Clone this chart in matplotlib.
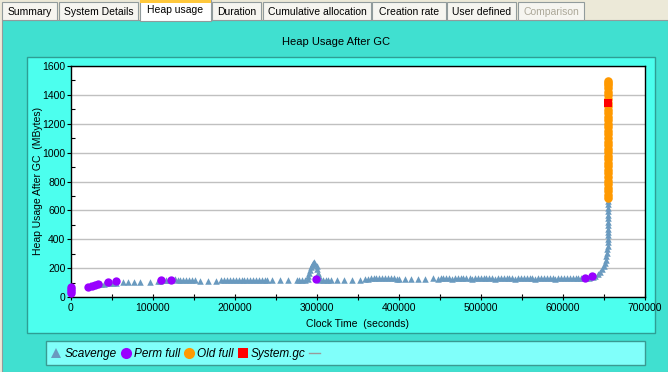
import matplotlib
matplotlib.use('Agg')
import matplotlib.pyplot as plt
from matplotlib.patches import Rectangle
from matplotlib.lines import Line2D
from matplotlib.ticker import MultipleLocator

plt.rcParams['font.family'] = ['Liberation Sans', 'DejaVu Sans']

# ---- data (clock time in seconds, heap after GC in MB) ----
tab_names = ['Summary', 'System Details', 'Heap usage', 'Duration',
             'Cumulative allocation', 'Creation rate', 'User defined', 'Comparison']

scavenge = [
    (23000, 82), (26500, 86), (30000, 88), (33500, 90), (37000, 92), (40500, 92),
    (44000, 94), (47500, 95), (51000, 96), (55000, 98),
    (63800, 104), (69900, 105), (76800, 105), (84100, 104), (96300, 102),
    (105500, 108), (109000, 112), (112500, 116), (116000, 118), (119500, 120),
    (123000, 121), (126500, 122), (130000, 121), (133500, 120), (137000, 120),
    (140500, 120), (144000, 119), (147500, 118), (151000, 118),
    (157000, 112), (166700, 112), (176400, 112),
    (183500, 115), (187000, 117), (190500, 118), (194000, 119), (197500, 120),
    (201000, 120), (204500, 119), (208000, 119), (211500, 119), (215000, 118),
    (218500, 118), (222000, 118), (225500, 118), (229000, 117), (232500, 117),
    (236000, 117), (239000, 116),
    (245500, 118), (255200, 118), (265000, 118), (275200, 118),
    (278500, 118), (282000, 119), (285500, 120), (288500, 123),
    (289500, 145), (290500, 165), (291500, 185), (292500, 205), (293500, 222),
    (295000, 236), (296500, 240), (298000, 232), (299500, 215), (300500, 192),
    (301500, 168), (302000, 145),
    (303500, 120), (307000, 119), (310500, 118), (314000, 118), (317500, 118),
    (324000, 118), (333000, 118), (343000, 118), (353000, 118),
    (358500, 126), (362000, 128), (365500, 129), (369000, 130), (372500, 130),
    (376000, 130), (379500, 130), (383000, 130), (386500, 130), (390000, 130),
    (393500, 129), (397000, 128), (400500, 127),
    (407000, 125), (415000, 125), (423000, 125), (431700, 128), (441800, 129),
    (447500, 128), (451000, 130), (454000, 129), (457500, 131), (461500, 130),
    (464500, 128), (468000, 130), (472000, 131), (475500, 129), (478500, 130),
    (482000, 131), (486000, 130), (489500, 128), (492500, 130), (496000, 131),
    (500000, 130), (503500, 129), (506500, 131), (510000, 130), (514000, 130),
    (517500, 128), (520500, 131), (524000, 130), (528000, 129), (531500, 131),
    (534500, 130), (538000, 130), (542000, 128), (545500, 131), (548500, 130),
    (552000, 129), (556000, 131), (559500, 130), (562500, 130), (566000, 128),
    (570000, 131), (573500, 130), (576500, 129), (580000, 131), (584000, 130),
    (587500, 130), (590500, 128), (594000, 131), (598000, 130), (601500, 129),
    (604500, 130), (608000, 131), (612000, 130), (615500, 129), (618500, 131),
    (622000, 130), (625000, 131),
    (628000, 132), (632000, 135), (636000, 140), (639500, 148), (642500, 160),
    (645000, 174), (647500, 192), (649500, 212), (651000, 234), (652200, 258),
    (653000, 282), (653700, 306), (654200, 330), (654500, 354), (654700, 378),
    (654800, 402), (654900, 426), (654900, 450), (655000, 474), (654900, 498),
    (655000, 522), (654900, 546), (655000, 570), (654900, 594), (655000, 618),
    (654900, 642), (655000, 662),
]
scav_t = [p[0] for p in scavenge]
scav_mb = [p[1] for p in scavenge]

perm_t = [0, 0, 0, 0, 21000, 25000, 29000, 33500, 44700, 54500,
          109800, 122000, 298700, 626800, 635000]
perm_mb = [30, 44, 58, 72, 68, 76, 82, 88, 102, 111,
           115, 115, 125, 134, 148]

old_mb = [684, 708, 733, 757, 782, 806, 831, 856, 880, 905, 929, 954, 978,
          1003, 1028, 1052, 1077, 1101, 1126, 1150, 1175, 1199, 1224, 1249,
          1273, 1298, 1322, 1347, 1371, 1396, 1420, 1445, 1469, 1484, 1496]
old_t = [655000] * len(old_mb)

sysgc_t = [655000]
sysgc_mb = [1345]

SCAV_C = '#6A9ABF'
PERM_C = '#9900FF'
OLD_C = '#FF9900'
SYS_C = '#FF0000'

W, H = 668, 372
fig = plt.figure(figsize=(W / 100, H / 100), dpi=100)

# ---- window chrome, drawn in pixel coordinates ----
bg = fig.add_axes([0, 0, 1, 1])
bg.set_xlim(0, W)
bg.set_ylim(H, 0)
bg.axis('off')

bg.add_patch(Rectangle((0, 0), W, H, facecolor='#ECE9D8', edgecolor='none'))
bg.add_patch(Rectangle((2, 20), W - 2, H - 20, facecolor='#40E0D0',
                       edgecolor='#919B9C', lw=0.8))

tab_edges = [(2, 57), (59, 138), (140, 211), (212, 261), (263, 371),
             (372, 446), (447, 516), (518, 584)]
for name, (x0, x1) in zip(tab_names, tab_edges):
    if name == 'Heap usage':
        bg.add_patch(Rectangle((x0, 0), x1 - x0, 21, facecolor='white',
                               edgecolor='#919B9C', lw=0.8, zorder=3))
        bg.add_patch(Rectangle((x0, 0), x1 - x0, 3, facecolor='#FFC83C',
                               edgecolor='none', zorder=4))
        ty = 10
    else:
        bg.add_patch(Rectangle((x0, 2), x1 - x0, 18, facecolor='#F6F5F0',
                               edgecolor='#919B9C', lw=0.8, zorder=2))
        ty = 12
    col = '#ACA899' if name == 'Comparison' else 'black'
    bg.text((x0 + x1) / 2, ty, name, ha='center', va='center', fontsize=7.5,
            color=col, zorder=5)

# inner light panel and legend box
bg.add_patch(Rectangle((27, 57), 628, 276, facecolor='#4CFFEE',
                       edgecolor='#2E9E94', lw=1))
bg.add_patch(Rectangle((46, 341), 599, 24, facecolor='#80FFFA',
                       edgecolor='#3A9A92', lw=1))

bg.text(336, 42, 'Heap Usage After GC', ha='center', va='center', fontsize=8)
bg.text(38, 181, 'Heap Usage After GC  (MBytes)', ha='center', va='center',
        rotation=90, fontsize=7.5)
bg.text(358, 324, 'Clock Time  (seconds)', ha='center', va='center', fontsize=7.5)

# ---- the chart ----
ax = fig.add_axes([71 / W, 1 - 297 / H, 574 / W, 231 / H])
ax.set_facecolor('white')

ax.scatter(scav_t, scav_mb, marker='^', s=22, color=SCAV_C, linewidths=0, zorder=3)
ax.scatter(perm_t, perm_mb, marker='o', s=36, color=PERM_C, linewidths=0,
           zorder=4, clip_on=False)
ax.scatter(old_t, old_mb, marker='o', s=38, color=OLD_C, linewidths=0, zorder=4)
ax.scatter(sysgc_t, sysgc_mb, marker='s', s=30, color=SYS_C, linewidths=0, zorder=5)

ax.set_xlim(0, 700000)
ax.set_ylim(0, 1600)
ax.xaxis.set_major_locator(MultipleLocator(100000))
ax.xaxis.set_minor_locator(MultipleLocator(50000))
ax.yaxis.set_major_locator(MultipleLocator(200))
ax.yaxis.set_minor_locator(MultipleLocator(100))
ax.ticklabel_format(axis='x', style='plain', useOffset=False)
ax.grid(axis='y', which='major', color='#C0C0C0', lw=1)
ax.set_axisbelow(True)

ax.tick_params(axis='x', which='both', direction='inout', length=5, width=0.8,
               labelsize=7.5, pad=2)
ax.tick_params(axis='y', which='major', direction='out', length=3, width=0.8,
               labelsize=7.5, pad=1)
ax.tick_params(axis='y', which='minor', direction='in', length=3, width=0.8)
for sp in ax.spines.values():
    sp.set_color('black')
    sp.set_linewidth(1)

# ---- legend ----
handles = [
    Line2D([], [], marker='^', ls='none', color=SCAV_C, ms=7, mew=0),
    Line2D([], [], marker='o', ls='none', color=PERM_C, ms=8, mew=0),
    Line2D([], [], marker='o', ls='none', color=OLD_C, ms=8, mew=0),
    Line2D([], [], marker='s', ls='none', color=SYS_C, ms=7, mew=0),
    Line2D([], [], color='#9A9A9A', lw=1),
]
labels = ['Scavenge', 'Perm full', 'Old full', 'System.gc', '']
fig.legend(handles, labels, loc='center left',
           bbox_to_anchor=(51 / W, 1 - 354 / H), ncol=5, frameon=False,
           prop={'style': 'italic', 'size': 8.5}, handlelength=0.9,
           handletextpad=0.25, columnspacing=0.3, borderpad=0, borderaxespad=0)

fig.savefig('out.png', dpi=100)
